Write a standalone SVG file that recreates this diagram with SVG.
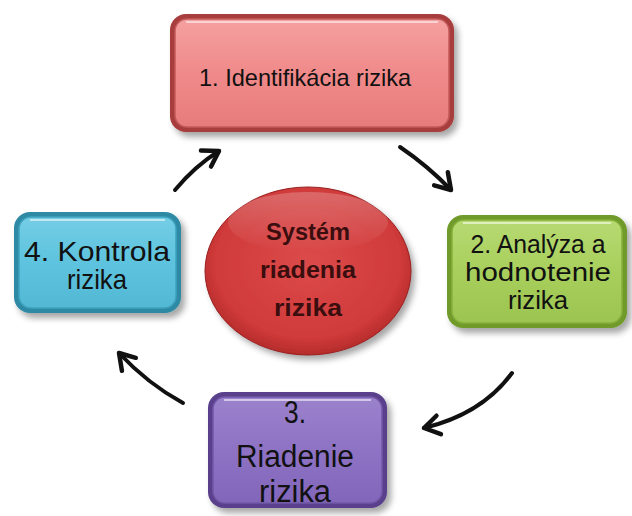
<svg xmlns="http://www.w3.org/2000/svg" width="632" height="516" viewBox="0 0 632 516">
<defs>
  <filter id="sh" x="-10%" y="-10%" width="130%" height="130%">
    <feDropShadow dx="4" dy="5" stdDeviation="3" flood-color="#000" flood-opacity="0.35"/>
  </filter>
  <linearGradient id="gRed" x1="0" y1="0" x2="0" y2="1">
    <stop offset="0" stop-color="#f4a0a0"/><stop offset="0.5" stop-color="#f08a8a"/><stop offset="1" stop-color="#e87c7c"/>
  </linearGradient>
  <linearGradient id="gGreen" x1="0" y1="0" x2="0" y2="1">
    <stop offset="0" stop-color="#b7da72"/><stop offset="0.5" stop-color="#a8cf5c"/><stop offset="1" stop-color="#9cc450"/>
  </linearGradient>
  <linearGradient id="gBlue" x1="0" y1="0" x2="0" y2="1">
    <stop offset="0" stop-color="#74cde5"/><stop offset="0.5" stop-color="#5ec3de"/><stop offset="1" stop-color="#52b8d4"/>
  </linearGradient>
  <linearGradient id="gPurple" x1="0" y1="0" x2="0" y2="1">
    <stop offset="0" stop-color="#9b82cc"/><stop offset="0.5" stop-color="#8e72c4"/><stop offset="1" stop-color="#8266ba"/>
  </linearGradient>
  <radialGradient id="gCircle" cx="0.5" cy="0.45" r="0.6">
    <stop offset="0" stop-color="#dc4a4a"/><stop offset="0.75" stop-color="#d03a3a"/><stop offset="1" stop-color="#a82424"/>
  </radialGradient>
  <linearGradient id="gHi" x1="0" y1="0" x2="0" y2="1">
    <stop offset="0" stop-color="#fff" stop-opacity="0.45"/><stop offset="1" stop-color="#fff" stop-opacity="0"/>
  </linearGradient>
  <marker id="ah" markerUnits="userSpaceOnUse" markerWidth="30" markerHeight="30" refX="0" refY="0" viewBox="-20 -15 30 30" orient="auto" overflow="visible">
    <path d="M-15,-10 L0,0 L-15,9" fill="none" stroke="#111" stroke-width="4.5" stroke-linecap="round" stroke-linejoin="round"/>
  </marker>
  <style>
    .t{font-family:"Liberation Sans","Open Sans",Arial,sans-serif;fill:#111;text-anchor:middle}
    .tb{font-family:"Liberation Sans","Open Sans",Arial,sans-serif;fill:#3a0e0e;text-anchor:middle;font-weight:bold}
    .hi{fill:none;stroke:#fff;stroke-opacity:0.55;stroke-width:2}
    .arr{fill:none;stroke:#111;stroke-width:4;stroke-linecap:round;marker-end:url(#ah)}
  </style>
</defs>
<rect width="632" height="516" fill="#fff"/>

<g id="connectors">
  <path class="arr" d="M400,147 Q428,166 451,190"/>
  <path class="arr" d="M512,373 Q482,414 424,428"/>
  <path class="arr" d="M183,403 Q148,384 119,353"/>
  <path class="arr" d="M175,190 Q195,166 219,151"/>
</g>

<g id="node1">
  <rect x="170" y="14" width="284" height="118" rx="16" fill="#a83c3c" filter="url(#sh)"/>
  <rect x="175" y="19" width="274" height="108" rx="12" fill="url(#gRed)" stroke="#c45a5a" stroke-width="1.5"/>
  <path class="hi" d="M186,22 H438"/>
  <text class="t" x="305" y="86" font-size="24" textLength="212" lengthAdjust="spacingAndGlyphs">1. Identifikácia rizika</text>
</g>

<g id="node2">
  <rect x="447" y="215" width="180" height="113" rx="16" fill="#6f9a2a" filter="url(#sh)"/>
  <rect x="452" y="220" width="170" height="103" rx="12" fill="url(#gGreen)" stroke="#86b03c" stroke-width="1.5"/>
  <path class="hi" d="M463,223 H611"/>
  <text class="t" x="538" y="253" font-size="26" textLength="135" lengthAdjust="spacingAndGlyphs">2. Analýza a</text>
  <text class="t" x="538" y="281" font-size="26" textLength="146" lengthAdjust="spacingAndGlyphs">hodnotenie</text>
  <text class="t" x="538" y="309" font-size="26" textLength="60" lengthAdjust="spacingAndGlyphs">rizika</text>
</g>

<g id="node4">
  <rect x="14" y="212" width="167" height="101" rx="16" fill="#2f8aa4" filter="url(#sh)"/>
  <rect x="19" y="217" width="157" height="91" rx="12" fill="url(#gBlue)" stroke="#3ea2be" stroke-width="1.5"/>
  <path class="hi" d="M30,220 H165"/>
  <text class="t" x="97" y="261" font-size="28" textLength="146" lengthAdjust="spacingAndGlyphs">4. Kontrola</text>
  <text class="t" x="97" y="289" font-size="28" textLength="60" lengthAdjust="spacingAndGlyphs">rizika</text>
</g>

<g id="node3">
  <rect x="208" y="392" width="179" height="116" rx="16" fill="#5a3f8c" filter="url(#sh)"/>
  <rect x="213" y="397" width="169" height="106" rx="12" fill="url(#gPurple)" stroke="#7258a8" stroke-width="1.5"/>
  <path class="hi" d="M224,400 H371"/>
  <text class="t" x="295" y="423" font-size="31" textLength="22" lengthAdjust="spacingAndGlyphs">3.</text>
  <text class="t" x="295" y="467" font-size="31" textLength="118" lengthAdjust="spacingAndGlyphs">Riadenie</text>
  <text class="t" x="295" y="502" font-size="31" textLength="72" lengthAdjust="spacingAndGlyphs">rizika</text>
</g>

<g id="center">
  <ellipse cx="308" cy="271" rx="103" ry="84" fill="url(#gCircle)" filter="url(#sh)"/>
  <ellipse cx="308" cy="271" rx="103" ry="84" fill="none" stroke="#9a2020" stroke-width="1"/>
  <ellipse cx="308" cy="222" rx="80" ry="30" fill="url(#gHi)" opacity="0.5"/>
  <text class="tb" x="308" y="240" font-size="24" textLength="84" lengthAdjust="spacingAndGlyphs">Systém</text>
  <text class="tb" x="308" y="278" font-size="24" textLength="96" lengthAdjust="spacingAndGlyphs">riadenia</text>
  <text class="tb" x="308" y="316" font-size="24" textLength="68" lengthAdjust="spacingAndGlyphs">rizika</text>
</g>
</svg>
